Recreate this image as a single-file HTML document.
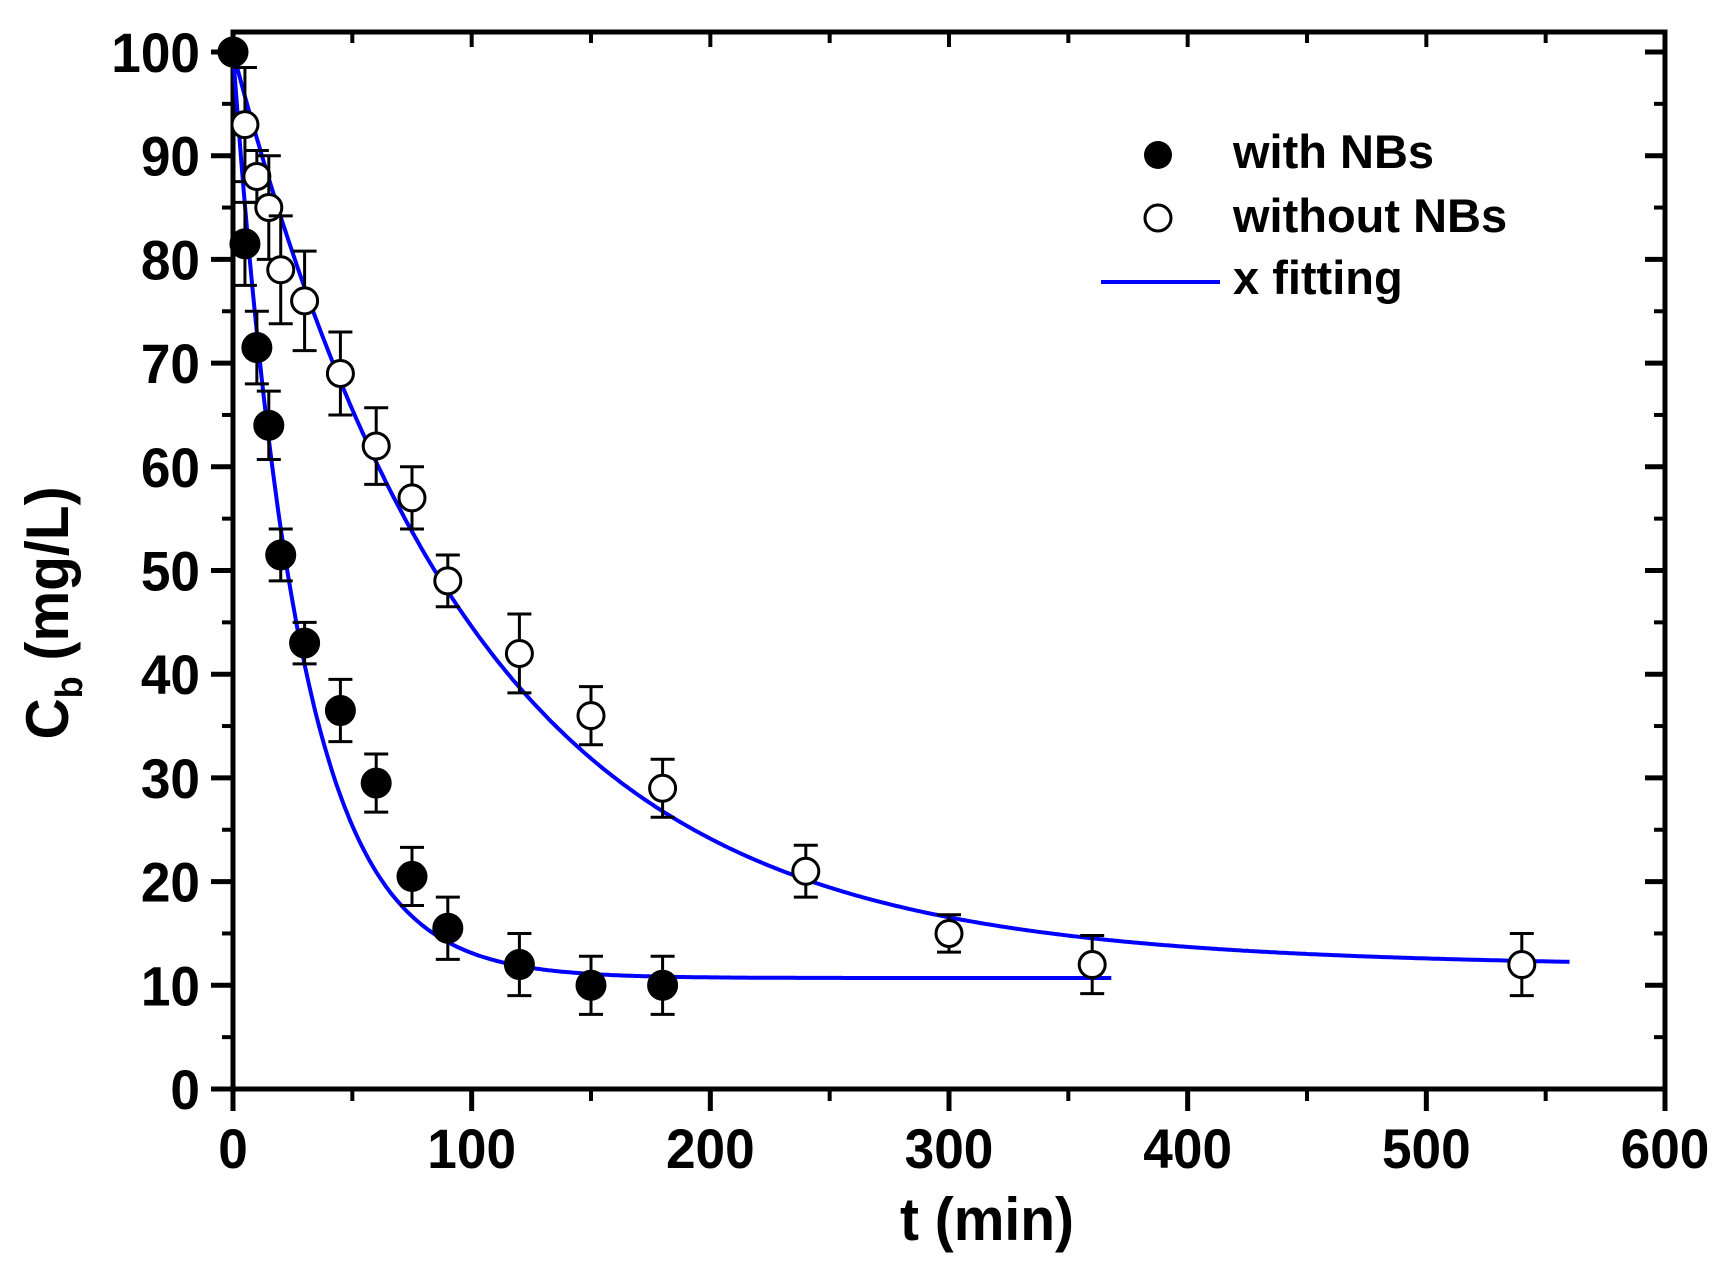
<!DOCTYPE html>
<html><head><meta charset="utf-8"><style>
html,body{margin:0;padding:0;background:#fff;}
svg{display:block;font-family:"Liberation Sans",Arial,sans-serif;font-weight:bold;}
</style></head><body>
<svg id="chart" width="1721" height="1272" viewBox="0 0 1721 1272" xmlns="http://www.w3.org/2000/svg">
<g id="plot"></g>
</svg>
<script>
const tWith=[0,5,10,15,20,30,45,60,75,90,120,150,180];
const cWith=[100,81.5,71.5,64,51.5,43,36.5,29.5,20.5,15.5,12,10,10];
const eWith=[0,4,3.5,3.3,2.5,2,3,2.8,2.8,3,3,2.8,2.8];
const tWithout=[5,10,15,20,30,45,60,75,90,120,150,180,240,300,360,540];
const cWithout=[93,88,85,79,76,69,62,57,49,42,36,29,21,15,12,12];
const eWithout=[5.5,2.5,5,5.2,4.8,4,3.7,3,2.5,3.8,2.8,2.8,2.5,1.8,2.8,3];
const fitWithParams=[10.7,89.3,27.7,0,368];   // plateau, amplitude, tau, slope, tEnd
const fitWithoutParams=[12.5,87.5,100,0.001,560];
const xTicks=[0,100,200,300,400,500,600];
const yTicks=[0,10,20,30,40,50,60,70,80,90,100];

const NS="http://www.w3.org/2000/svg";
const X0=233,X1=1665,Y0=1089,Y1=52;
const sx=v=>X0+(v/600)*(X1-X0);
const sy=v=>Y0-(v/100)*(Y0-Y1);
const root=document.getElementById('plot');
function mk(tag,attrs,parent){const e=document.createElementNS(NS,tag);for(const k in attrs)e.setAttribute(k,attrs[k]);(parent||root).appendChild(e);return e;}
function txt(s,x,y,size,anchor,sxf){const e=mk('text',{transform:`translate(${x},${y}) scale(${sxf},1)`,'font-size':size,'text-anchor':anchor,fill:'#000'});e.textContent=s;return e;}

const frame=mk('rect',{x:X0,y:Y1-20,width:X1-X0,height:Y0-Y1+20,fill:'none',stroke:'#000','stroke-width':5});



xTicks.forEach((v,i)=>{
  const x=sx(v);
  mk('line',{x1:x,x2:x,y1:Y0,y2:Y0+22,stroke:'#000','stroke-width':5});
  mk('line',{x1:x,x2:x,y1:Y1-20,y2:Y1-5,stroke:'#000','stroke-width':4});
  if(i<xTicks.length-1){const xm=sx(v+50);
    mk('line',{x1:xm,x2:xm,y1:Y0,y2:Y0+12,stroke:'#000','stroke-width':4});
    mk('line',{x1:xm,x2:xm,y1:Y1-20,y2:Y1-9,stroke:'#000','stroke-width':4});}
  const t=txt(String(v),x,1168,56,'middle',0.95);
  
  
});
yTicks.forEach((v,i)=>{
  const y=sy(v);
  mk('line',{x1:X0-22,x2:X0,y1:y,y2:y,stroke:'#000','stroke-width':5});
  mk('line',{x1:X1-20,x2:X1,y1:y,y2:y,stroke:'#000','stroke-width':5});
  if(i<yTicks.length-1){const ym=sy(v+5);
    mk('line',{x1:X0-11,x2:X0,y1:ym,y2:ym,stroke:'#000','stroke-width':4});
    mk('line',{x1:X1-11,x2:X1,y1:ym,y2:ym,stroke:'#000','stroke-width':4});}
  const t=txt(String(v),X0-33,y+20,56,'end',0.95);
  
  
});
const xt=txt('t (min)',987,1240,60,'middle',0.95);


const yt=mk('text',{transform:'translate(68,613) rotate(-90) scale(0.95,1)','font-size':60,'text-anchor':'middle',fill:'#000'});
yt.innerHTML='C<tspan font-size="38" dy="14">b</tspan><tspan dy="-14"> (mg/L)</tspan>';



function fitPath(p){let d='';for(let t=0;t<=p[4];t+=1){const c=p[0]+p[1]*Math.exp(-t/p[2])-p[3]*t;d+=(t?'L':'M')+sx(t).toFixed(1)+','+sy(c).toFixed(1);}return d;}
const f1=mk('path',{d:fitPath(fitWithParams),fill:'none',stroke:'#0000ff','stroke-width':4});


const f2=mk('path',{d:fitPath(fitWithoutParams),fill:'none',stroke:'#0000ff','stroke-width':4});



function series(ts,cs,es,filled,name){
  ts.forEach((t,i)=>{
    const x=sx(t),y=sy(cs[i]);
    if(es[i]>0){const yt=sy(cs[i]+es[i]),yb=sy(cs[i]-es[i]);
      const eb=mk('path',{d:`M${x},${yt}L${x},${yb}M${x-12},${yt}L${x+12},${yt}M${x-12},${yb}L${x+12},${yb}`,stroke:'#000','stroke-width':3,fill:'none'});
      
      }
    const c=mk('circle',{cx:x,cy:y,r:filled?14:13,fill:filled?'#000':'#fff',stroke:'#000','stroke-width':3});
    
    
  });
}
series(tWithout,cWithout,eWithout,false,'without-nbs');
series(tWith,cWith,eWith,true,'with-nbs');

const lg=mk('g',{});


mk('circle',{cx:1158,cy:155,r:14,fill:'#000'},lg);
mk('circle',{cx:1158,cy:218,r:13,fill:'#fff',stroke:'#000','stroke-width':3},lg);
mk('line',{x1:1101,x2:1220,y1:282,y2:282,stroke:'#0000ff','stroke-width':4},lg);
[['with NBs',168],['without NBs',232],['x fitting',294]].forEach(([s,y])=>{
  const e=mk('text',{transform:`translate(1233,${y}) scale(1.0,1)`,'font-size':47,fill:'#000'},lg);
  e.textContent=s;
  
  
});
</script>
</body></html>
